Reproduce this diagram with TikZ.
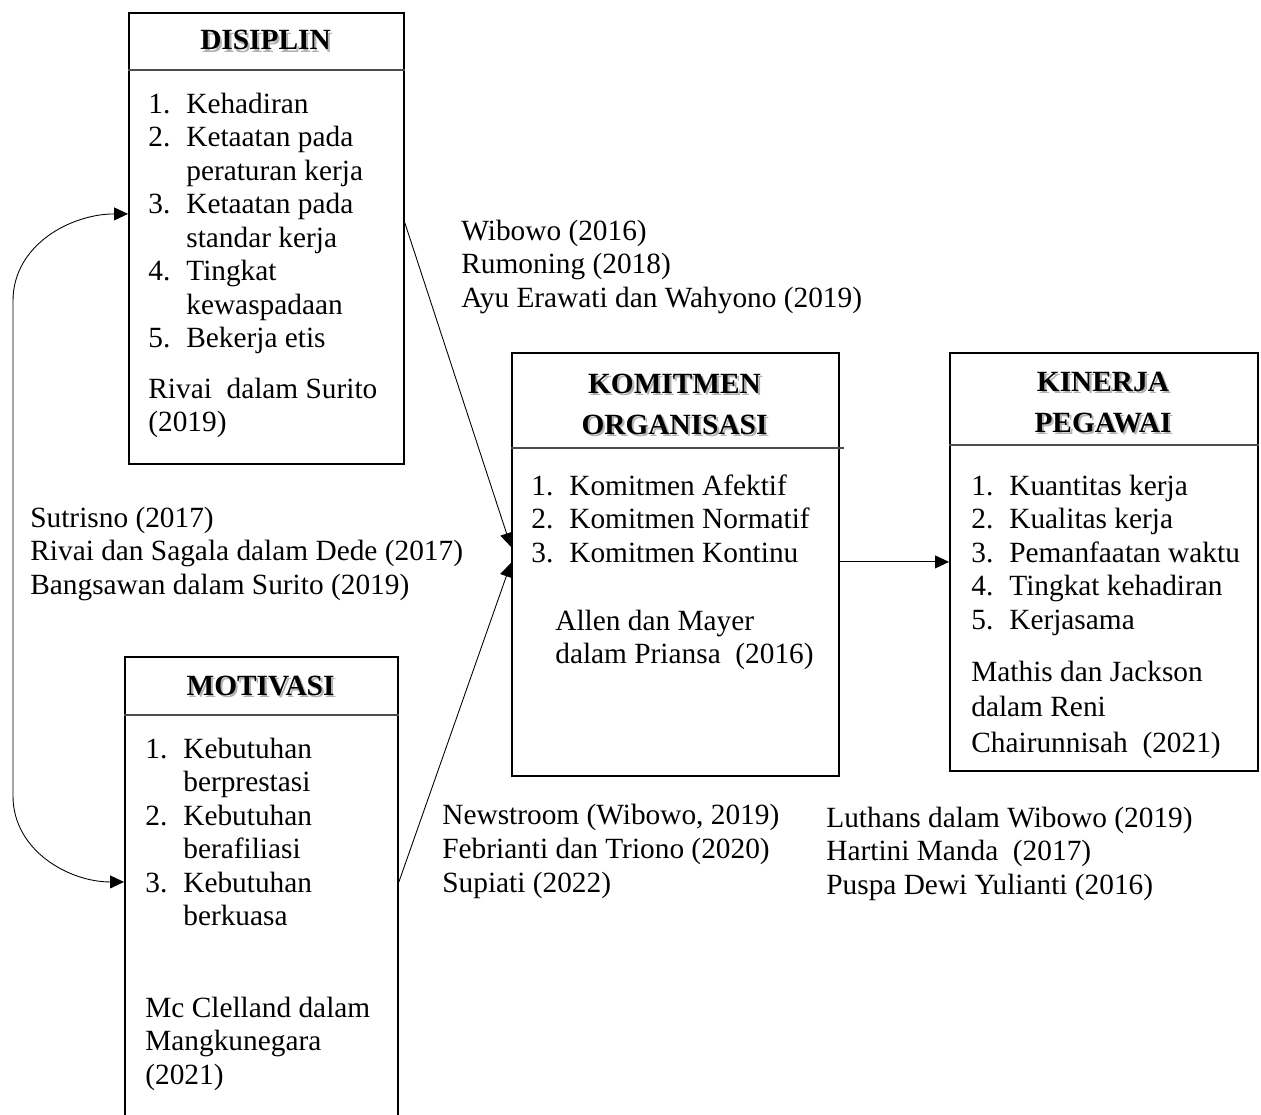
\documentclass[tikz,border=0pt]{standalone}
\usepackage{fontspec}
\setmainfont{Liberation Serif}
\usetikzlibrary{arrows.meta}
\newcommand\bodyfont{\fontsize{16.7}{19.1}\selectfont}
\newcommand\titlefont{\fontsize{16.7}{23.8}\selectfont\bfseries}
\newcommand\shadowed[1]{\makebox[0pt][l]{\hspace{1.2pt}\raisebox{-1.2pt}{\color{black!30}#1}}#1}
\newcommand\lines[1]{\begin{tabular}[t]{@{}l@{}}#1\end{tabular}}
\newcommand\items[1]{\begin{tabular}[t]{@{}p{0.76cm}@{}l@{}}#1\end{tabular}}
\tikzset{
  box/.style={draw, line width=1.1pt, inner sep=0pt, anchor=north west},
  sep/.style={draw=black!70, line width=0.8pt},
  ttl/.style={font=\titlefont, anchor=base, inner sep=0pt},
  txt/.style={font=\bodyfont, anchor=base west, inner sep=0pt},
  conn/.style={line width=0.5pt, -{Triangle[length=0.28cm,width=0.26cm]}},
  dbl/.style={line width=0.5pt, {Triangle[length=0.28cm,width=0.26cm]}-{Triangle[length=0.28cm,width=0.26cm]}}
}
\begin{document}
\begin{tikzpicture}[x=0.02cm, y=-0.02cm]
\useasboundingbox (0,0) rectangle (1261,1115);
\clip (0,0) rectangle (1261,1115);
% boxes
\node[box, minimum width=5.5cm, minimum height=9.02cm] (dis) at (128,12) {};
\node[box, minimum width=6.54cm, minimum height=8.46cm] (kom) at (511,352) {};
\node[box, minimum width=6.16cm, minimum height=8.36cm] (kin) at (949,352) {};
\node[box, minimum width=5.46cm, minimum height=10cm] (mot) at (124,656) {};
\draw[sep] ([yshift=-1.16cm]dis.north west) -- ([yshift=-1.16cm]dis.north east);
\draw[sep] ([yshift=-1.92cm]kom.north west) -- ([yshift=-1.92cm,xshift=0.08cm]kom.north east);
\draw[sep] ([yshift=-1.86cm]kin.north west) -- ([yshift=-1.86cm]kin.north east);
\draw[sep] ([yshift=-1.18cm]mot.north west) -- ([yshift=-1.18cm]mot.north east);
% disiplin
\node[ttl] (dis-t) at (265.5,50) {\shadowed{DISIPLIN}};
\node[txt] (dis-l) at (148,113) {\items{
1. & Kehadiran\\
2. & Ketaatan pada\\
   & peraturan kerja\\
3. & Ketaatan pada\\
   & standar kerja\\
4. & Tingkat\\
   & kewaspadaan\\
5. & Bekerja etis}};
\node[txt] (dis-c) at (148,398) {\lines{Rivai\ \ dalam Surito\\(2019)}};
% komitmen
\node[ttl] (kom-t) at (674.5,393) {\begin{tabular}[t]{@{}c@{}}\shadowed{KOMITMEN}\\\shadowed{ORGANISASI}\end{tabular}};
\node[txt] (kom-l) at (531,495) {\items{
1. & Komitmen Afektif\\
2. & Komitmen Normatif\\
3. & Komitmen Kontinu}};
\node[txt] (kom-c) at (555,630) {\lines{Allen dan Mayer\\dalam Priansa\ \ (2016)}};
% kinerja
\node[ttl] (kin-t) at (1103,391) {\begin{tabular}[t]{@{}c@{}}\shadowed{KINERJA}\\\shadowed{PEGAWAI}\end{tabular}};
\node[txt] (kin-l) at (971,495) {\items{
1. & Kuantitas kerja\\
2. & Kualitas kerja\\
3. & Pemanfaatan waktu\\
4. & Tingkat kehadiran\\
5. & Kerjasama}};
\node[txt] (kin-c) at (971,681) {\lines{Mathis dan Jackson\\[1pt]dalam Reni\\[1.5pt]Chairunnisah\ \ (2021)}};
% motivasi
\node[ttl] (mot-t) at (260.5,695) {\shadowed{MOTIVASI}};
\node[txt] (mot-l) at (145,758) {\items{
1. & Kebutuhan\\
   & berprestasi\\
2. & Kebutuhan\\
   & berafiliasi\\
3. & Kebutuhan\\
   & berkuasa}};
\node[txt] (mot-c) at (145,1017) {\lines{Mc Clelland dalam\\Mangkunegara\\(2021)}};
% references on the arrows
\node[txt] (ref-dk) at (461,240) {\lines{Wibowo (2016)\\Rumoning (2018)\\Ayu Erawati dan Wahyono (2019)}};
\node[txt] (ref-dm) at (30,527) {\lines{Sutrisno (2017)\\Rivai dan Sagala dalam Dede (2017)\\Bangsawan dalam Surito (2019)}};
\node[txt] (ref-mk) at (442,824) {\lines{Newstroom (Wibowo, 2019)\\[0.5pt]Febrianti dan Triono (2020)\\[0.5pt]Supiati (2022)}};
\node[txt] (ref-kk) at (826,827) {\lines{Luthans dalam Wibowo (2019)\\Hartini Manda\ \ (2017)\\Puspa Dewi Yulianti (2016)}};
% arrows
\draw[conn] ([yshift=0.31cm]dis.east) -- ([yshift=0.35cm]kom.west);
\draw[conn] ([yshift=-4.52cm]mot.north east) -- ([yshift=0.03cm]kom.west);
\draw[conn] (kom.east |- kin.west) -- (kin.west);
\draw[dbl] ([yshift=0.49cm]dis.west) to[out=180,in=90] ++(-115,87) -- ++(0,495) to[out=-90,in=180] ([yshift=-4.52cm]mot.north west);
\end{tikzpicture}
\end{document}
